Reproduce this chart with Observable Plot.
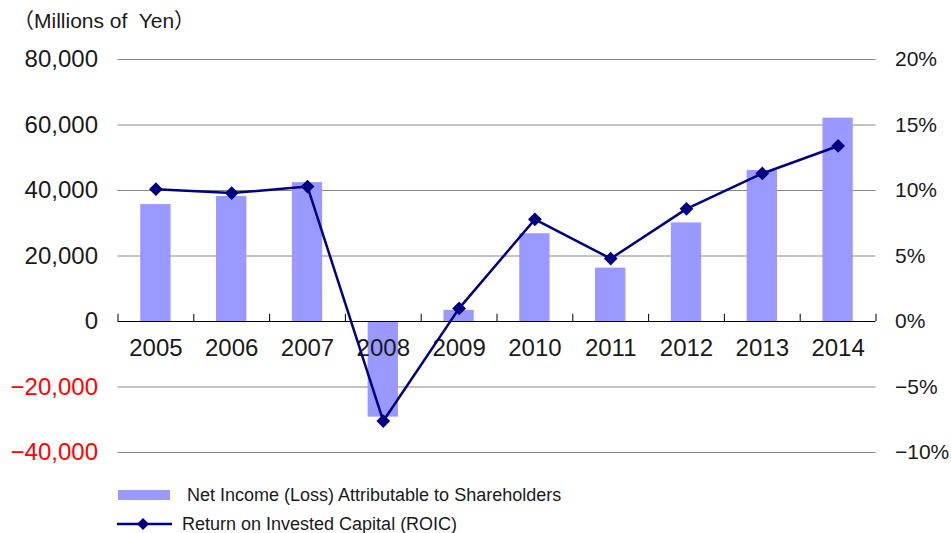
<!DOCTYPE html>
<html>
<head>
<meta charset="utf-8">
<script src="https://cdn.jsdelivr.net/npm/d3@7"></script>
<script src="https://cdn.jsdelivr.net/npm/@observablehq/plot@0.6"></script>
<style>
  html, body { margin: 0; padding: 0; background: #fff; }
  #wrap { position: relative; width: 951px; height: 533px; font-family: "Liberation Sans", Arial, "Noto Sans CJK JP", sans-serif; color: #1a1a1a; }
  #title { position: relative; height: 40px; }
  #title span { position: absolute; left: 13px; top: 8px; font-size: 21px; line-height: 25px; white-space: pre; }
  #chart svg { display: block; }
  #legend { position: relative; height: 63px; }
  .lg { position: absolute; font-size: 18px; line-height: 20px; white-space: nowrap; }
</style>
</head>
<body>
<div id="wrap">
  <div id="title"><span>（Millions of  Yen）</span></div>
  <div id="chart"></div>
  <div id="legend">
    <div style="position:absolute;left:118px;top:20px;width:52px;height:10px;background:#9999ff;"></div>
    <div class="lg" style="left:187px;top:15px;">Net Income (Loss) Attributable to Shareholders</div>
    <svg style="position:absolute;left:116px;top:46px;" width="58" height="16">
      <line x1="1" y1="8" x2="56" y2="8" stroke="#000080" stroke-width="2.5"></line>
      <path d="M27,2 L33,8 L27,14 L21,8 Z" fill="#000080"></path>
    </svg>
    <div class="lg" style="left:182px;top:44px;">Return on Invested Capital (ROIC)</div>
  </div>
</div>
<script>
const years = ["2005","2006","2007","2008","2009","2010","2011","2012","2013","2014"];
const netIncome = [35700, 38200, 42400, -29200, 3400, 26800, 16300, 30100, 46100, 62100];
const roic = [10.1, 9.8, 10.3, -7.6, 1.0, 7.8, 4.8, 8.6, 11.3, 13.4];
const leftTicks = [-40000, -20000, 0, 20000, 40000, 60000, 80000];
const rightTicks = [-10, -5, 0, 5, 10, 15, 20];

const ratio = 4000; // 1% on the right axis == 4,000 on the left axis
const data = years.map((y, i) => ({year: y, income: netIncome[i], roic: roic[i]}));
const fmt = d3.format(",");

const W = 951, H = 430;
const mL = 117.5, mR = 75.5, mT = 19, mB = 18;
const step = (W - mL - mR) / years.length;

const chart = Plot.plot({
  width: W,
  height: H,
  marginLeft: mL,
  marginRight: mR,
  marginTop: mT,
  marginBottom: mB,
  style: {fontFamily: "'Liberation Sans', Arial, sans-serif", color: "#1a1a1a", background: "#fff"},
  x: {domain: years, paddingInner: 0.6, paddingOuter: 0.3, round: false, axis: null},
  y: {domain: [-40000, 80000], axis: null},
  marks: [
    Plot.ruleY(leftTicks.filter(d => d !== 0), {stroke: "#878787", strokeWidth: 1}),
    Plot.barY(data, {x: "year", y: "income", fill: "#9999ff"}),
    Plot.ruleY([0], {stroke: "#000", strokeWidth: 1.2}),
    Plot.ruleX(years, {x: d => d, y1: 0, y2: 2200, dx: -step / 2, stroke: "#000", strokeWidth: 1}),
    Plot.ruleX(years.slice(-1), {x: d => d, y1: 0, y2: 2200, dx: step / 2, stroke: "#000", strokeWidth: 1}),
    Plot.axisY(leftTicks, {
      anchor: "left", label: null, tickSize: 0, tickPadding: 20, fontSize: 24,
      tickFormat: d => fmt(d),
      fill: d => d < 0 ? "#ff0000" : "#1a1a1a"
    }),
    Plot.axisY(rightTicks.map(d => d * ratio), {
      anchor: "right", label: null, tickSize: 0, tickPadding: 19, fontSize: 21,
      tickFormat: d => fmt(d / ratio) + "%",
      fill: "#1a1a1a"
    }),
    Plot.text(years, {x: d => d, y: 0, dy: 27, fontSize: 24, fill: "#1a1a1a", text: d => d}),
    Plot.line(data, {x: "year", y: d => d.roic * ratio, stroke: "#000080", strokeWidth: 2.5}),
    Plot.dot(data, {x: "year", y: d => d.roic * ratio, symbol: "diamond2", r: 6.2, fill: "#000080", stroke: "none"})
  ]
});
document.getElementById("chart").appendChild(chart);
</script>
</body>
</html>
